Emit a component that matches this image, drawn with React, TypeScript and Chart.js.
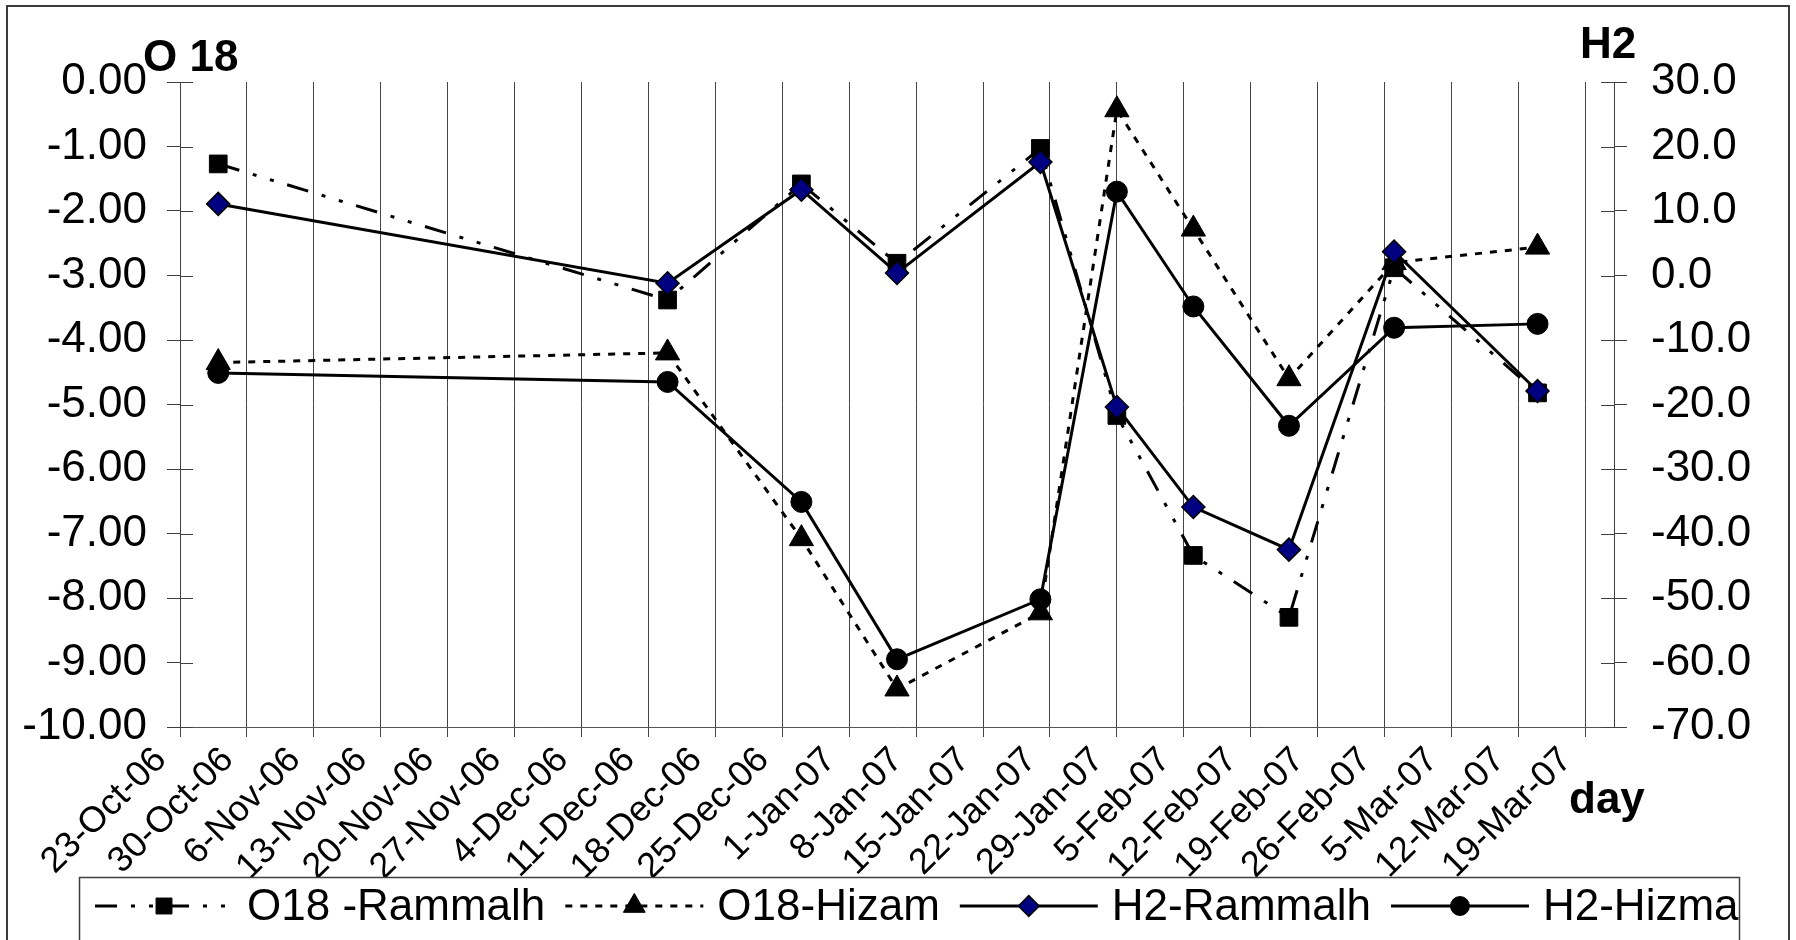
import React, { useEffect, useRef } from 'react';
import { Chart, registerables } from 'chart.js';

Chart.register(...registerables);

// ---------- data ----------
const axisStart = '2006-10-23';
const axisEnd = '2007-03-22';
const sampleDates = [
  '2006-10-27', '2006-12-13', '2006-12-27', '2007-01-06', '2007-01-21',
  '2007-01-29', '2007-02-06', '2007-02-16', '2007-02-27', '2007-03-14',
];
const o18Rammalh = [-1.27, -3.38, -1.58, -2.81, -1.03, -5.17, -7.34, -8.3, -2.88, -4.82];
const o18Hizam = [-4.35, -4.2, -7.08, -9.41, -8.23, -0.43, -2.28, -4.6, -2.8, -2.56];
const h2Rammalh = [11.1, -1.2, 13.3, 0.4, 17.6, -20.4, -35.9, -42.5, 3.7, -17.9];
const h2Hizma = [-15.1, -16.5, -35.1, -59.5, -50.2, 13.0, -4.8, -23.3, -8.1, -7.5];
const seriesNames = ['O18 -Rammalh', 'O18-Hizam', 'H2-Rammalh', 'H2-Hizma'];
const weekLabels = [
  '23-Oct-06', '30-Oct-06', '6-Nov-06', '13-Nov-06', '20-Nov-06', '27-Nov-06',
  '4-Dec-06', '11-Dec-06', '18-Dec-06', '25-Dec-06', '1-Jan-07', '8-Jan-07',
  '15-Jan-07', '22-Jan-07', '29-Jan-07', '5-Feb-07', '12-Feb-07', '19-Feb-07',
  '26-Feb-07', '5-Mar-07', '12-Mar-07', '19-Mar-07',
];
const leftTitle = 'O 18';
const rightTitle = 'H2';
const xTitle = 'day';

// ---------- helpers ----------
const FONT = '"Liberation Sans", Arial, Helvetica, sans-serif';
const W = 1796;
const H = 940;
const PLOT_LEFT = 180;
const PLOT_RIGHT = 1614;
const PLOT_TOP = 82;
const PLOT_BOTTOM = 727;

function dayOf(s: string): number {
  const [y, m, d] = s.split('-').map(Number);
  const [y0, m0, d0] = axisStart.split('-').map(Number);
  return Math.round((Date.UTC(y, m - 1, d) - Date.UTC(y0, m0 - 1, d0)) / 86400000);
}

function pts(values: number[]) {
  return values.map((v, i) => ({ x: dayOf(sampleDates[i]), y: v }));
}

function drawMarker(ctx: CanvasRenderingContext2D, style: string, x: number, y: number, r: number,
  fill: string, stroke: string, bw: number) {
  ctx.beginPath();
  if (style === 'rect') {
    const s = r * Math.SQRT1_2;
    ctx.rect(x - s, y - s, 2 * s, 2 * s);
  } else if (style === 'triangle') {
    let rad = 0;
    const t = (2 * Math.PI) / 3;
    ctx.moveTo(x + Math.sin(rad) * r, y - Math.cos(rad) * r);
    rad += t;
    ctx.lineTo(x + Math.sin(rad) * r, y - Math.cos(rad) * r);
    rad += t;
    ctx.lineTo(x + Math.sin(rad) * r, y - Math.cos(rad) * r);
    ctx.closePath();
  } else if (style === 'rectRot') {
    ctx.moveTo(x - r, y);
    ctx.lineTo(x, y - r);
    ctx.lineTo(x + r, y);
    ctx.lineTo(x, y + r);
    ctx.closePath();
  } else {
    ctx.arc(x, y, r, 0, Math.PI * 2);
  }
  ctx.fillStyle = fill;
  ctx.fill();
  ctx.lineWidth = bw;
  ctx.strokeStyle = stroke;
  ctx.stroke();
}

const decorPlugin = {
  id: 'decor',
  beforeDraw(chart: any) {
    const ctx = chart.ctx as CanvasRenderingContext2D;
    ctx.save();
    ctx.fillStyle = '#ffffff';
    ctx.fillRect(0, 0, chart.width, chart.height);
    ctx.restore();
  },
  beforeDatasetsDraw(chart: any) {
    const ctx = chart.ctx as CanvasRenderingContext2D;
    const { left, right } = chart.chartArea;
    ctx.save();
    ctx.strokeStyle = '#404040';
    ctx.lineWidth = 1;
    const yl = chart.scales.y;
    yl.ticks.forEach((t: any) => {
      const py = Math.round(yl.getPixelForValue(t.value)) + 0.5;
      ctx.beginPath();
      ctx.moveTo(left, py);
      ctx.lineTo(left + 13, py);
      ctx.stroke();
    });
    const yr = chart.scales.y2;
    yr.ticks.forEach((t: any) => {
      const py = Math.round(yr.getPixelForValue(t.value)) + 0.5;
      ctx.beginPath();
      ctx.moveTo(right - 13, py);
      ctx.lineTo(right, py);
      ctx.stroke();
    });
    ctx.restore();
  },
  afterDraw(chart: any) {
    const ctx = chart.ctx as CanvasRenderingContext2D;
    ctx.save();
    // outer frame
    ctx.strokeStyle = '#3c3c3c';
    ctx.lineWidth = 2;
    ctx.strokeRect(7, 6, 1782, 980);
    // titles
    ctx.fillStyle = '#000';
    ctx.textAlign = 'left';
    ctx.textBaseline = 'alphabetic';
    ctx.font = `bold 44px ${FONT}`;
    ctx.fillText(leftTitle, 143, 71);
    ctx.fillText(rightTitle, 1580, 58);
    ctx.fillText(xTitle, 1569, 813);
    // legend
    ctx.fillStyle = '#ffffff';
    ctx.fillRect(80, 878, 1659, 70);
    ctx.strokeStyle = '#404040';
    ctx.lineWidth = 1.5;
    ctx.strokeRect(79.5, 877.5, 1660, 120);
    ctx.font = `44px ${FONT}`;
    ctx.textBaseline = 'middle';
    const ly = 906;
    let x = 95;
    const sample = 138;
    chart.data.datasets.forEach((ds: any) => {
      ctx.save();
      ctx.setLineDash(ds.borderDash || []);
      ctx.lineWidth = ds.borderWidth;
      ctx.strokeStyle = ds.borderColor;
      ctx.beginPath();
      ctx.moveTo(x, ly);
      ctx.lineTo(x + sample, ly);
      ctx.stroke();
      ctx.restore();
      drawMarker(ctx, ds.pointStyle, x + sample / 2, ly, ds.pointRadius * 0.9,
        ds.pointBackgroundColor, ds.pointBorderColor, ds.pointBorderWidth);
      const tx = x + sample + 14;
      ctx.fillStyle = '#000';
      ctx.fillText(ds.label, tx, ly + 2);
      x = tx + ctx.measureText(ds.label).width + 20;
    });
    ctx.restore();
  },
};

export default function App() {
  const ref = useRef<HTMLCanvasElement>(null);

  useEffect(() => {
    const canvas = ref.current;
    if (!canvas) return;
    const tickFont = { family: FONT, size: 44 };
    const gridColor = '#444444';
    const chart = new Chart(canvas, {
      type: 'line',
      data: {
        datasets: [
          {
            label: seriesNames[0],
            data: pts(o18Rammalh),
            yAxisID: 'y',
            borderColor: '#000',
            borderWidth: 3,
            borderDash: [22, 14, 4, 14, 4, 14],
            pointStyle: 'rect',
            pointRadius: 12.5,
            pointBackgroundColor: '#000',
            pointBorderColor: '#000',
            pointBorderWidth: 1,
            tension: 0,
            order: 3,
          },
          {
            label: seriesNames[1],
            data: pts(o18Hizam),
            yAxisID: 'y',
            borderColor: '#000',
            borderWidth: 3,
            borderDash: [7, 8],
            pointStyle: 'triangle',
            pointRadius: 14,
            pointBackgroundColor: '#000',
            pointBorderColor: '#000',
            pointBorderWidth: 1,
            tension: 0,
            order: 2,
          },
          {
            label: seriesNames[2],
            data: pts(h2Rammalh),
            yAxisID: 'y2',
            borderColor: '#000',
            borderWidth: 3,
            borderDash: [],
            pointStyle: 'rectRot',
            pointRadius: 11.5,
            pointBackgroundColor: '#000080',
            pointBorderColor: '#000',
            pointBorderWidth: 1.5,
            tension: 0,
            order: 0,
          },
          {
            label: seriesNames[3],
            data: pts(h2Hizma),
            yAxisID: 'y2',
            borderColor: '#000',
            borderWidth: 3,
            borderDash: [],
            pointStyle: 'circle',
            pointRadius: 10.5,
            pointBackgroundColor: '#000',
            pointBorderColor: '#000',
            pointBorderWidth: 1,
            tension: 0,
            order: 1,
          },
        ] as any,
      },
      options: {
        responsive: false,
        animation: false,
        devicePixelRatio: 1,
        layout: { padding: { top: PLOT_TOP, left: 0, right: 0, bottom: 0 } },
        plugins: { legend: { display: false }, tooltip: { enabled: false } },
        scales: {
          x: {
            type: 'linear',
            position: 'bottom',
            min: 0,
            max: dayOf(axisEnd),
            afterFit: (s: any) => { s.height = H - PLOT_BOTTOM; },
            ticks: {
              stepSize: 7,
              includeBounds: false,
              autoSkip: false,
              maxRotation: 45,
              minRotation: 45,
              labelOffset: -19,
              padding: 2,
              color: '#000',
              font: { family: FONT, size: 36 },
              callback: (v: any) => weekLabels[Math.round(Number(v) / 7)] ?? '',
            },
            grid: { color: gridColor, lineWidth: 1, tickLength: 10, drawTicks: true },
            border: { display: true, color: '#555555', width: 1 },
          },
          y: {
            type: 'linear',
            position: 'left',
            min: -10,
            max: 0,
            afterFit: (s: any) => { s.width = PLOT_LEFT; },
            ticks: {
              stepSize: 1,
              padding: 20,
              color: '#000',
              font: tickFont,
              callback: (v: any) => Number(v).toFixed(2),
            },
            grid: { drawOnChartArea: false, tickLength: 13, color: '#404040' },
            border: { display: true, color: '#404040', width: 1 },
          },
          y2: {
            type: 'linear',
            position: 'right',
            min: -70,
            max: 30,
            afterFit: (s: any) => { s.width = W - PLOT_RIGHT; },
            ticks: {
              stepSize: 10,
              padding: 24,
              color: '#000',
              font: tickFont,
              callback: (v: any) => Number(v).toFixed(1),
            },
            grid: { drawOnChartArea: false, tickLength: 13, color: '#404040' },
            border: { display: true, color: '#404040', width: 1 },
          },
        },
      } as any,
      plugins: [decorPlugin],
    });
    return () => chart.destroy();
  }, []);

  return (
    <div style={{ position: 'fixed', left: 0, top: 0, width: W, height: H, background: '#fff' }}>
      <canvas ref={ref} width={W} height={H} style={{ display: 'block', width: W, height: H }} />
    </div>
  );
}
